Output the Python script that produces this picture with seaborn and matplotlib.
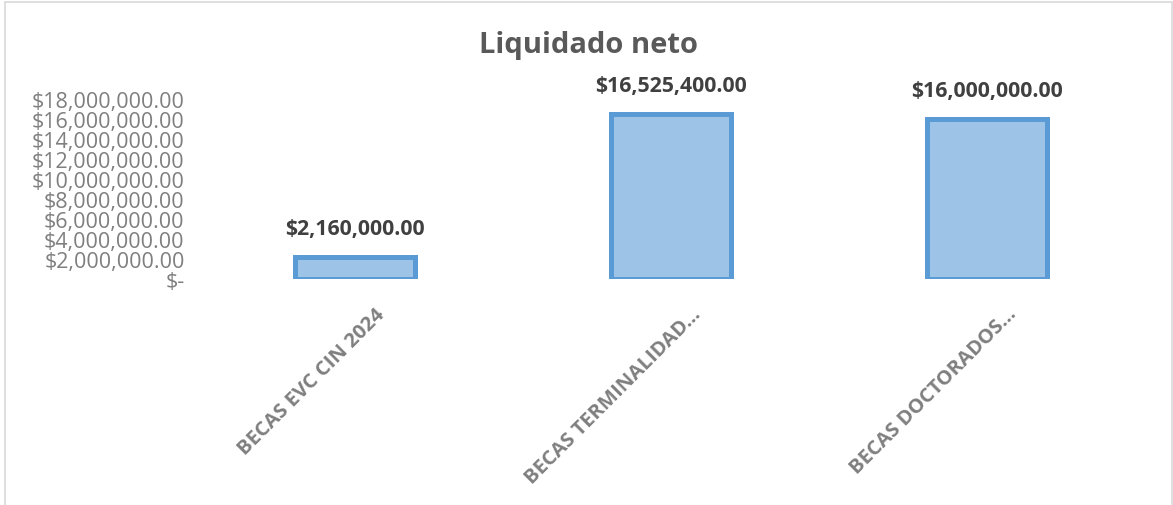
import matplotlib
matplotlib.use('Agg')
import matplotlib.pyplot as plt
import matplotlib.transforms as mtransforms
from matplotlib.patches import Rectangle
import seaborn as sns
import pandas as pd

# Datos del gráfico
categorias = ['BECAS EVC CIN 2024', 'BECAS TERMINALIDAD...', 'BECAS DOCTORADOS...']
liquidado = [2160000.00, 16525400.00, 16000000.00]
ticks_y = [0, 2e6, 4e6, 6e6, 8e6, 10e6, 12e6, 14e6, 16e6, 18e6]

df = pd.DataFrame({'Concepto': categorias, 'Liquidado': liquidado})

sns.set_style('white')
plt.rcParams['font.family'] = ['Open Sans', 'DejaVu Sans']

fig = plt.figure(figsize=(11.73, 5.06), dpi=100)
ax = fig.add_axes([0.168, 0.4466, 0.808, 0.3557])

sns.barplot(x='Concepto', y='Liquidado', data=df, ax=ax, color='#9DC3E6',
            saturation=1, edgecolor='#5B9BD5', linewidth=3.6, width=0.38)

ax.set_ylim(0, 18e6)
ax.set_xlim(-0.5, 2.5)
ax.set_yticks(ticks_y)
ax.set_yticklabels(['$-'] + ['${:,.2f}'.format(v) for v in ticks_y[1:]],
                   fontsize=15.5, color='#7f7f7f')
ax.set_xlabel('')
ax.set_ylabel('')
ax.tick_params(axis='y', length=0, pad=9)
ax.tick_params(axis='x', length=0)
for s in ax.spines.values():
    s.set_visible(False)

# Etiquetas del eje x rotadas
desplaza = mtransforms.ScaledTranslation(27 / 100, -27 / 100, fig.dpi_scale_trans)
for lbl in ax.get_xticklabels():
    lbl.set_rotation(45)
    lbl.set_ha('right')
    lbl.set_va('center')
    lbl.set_rotation_mode('anchor')
    lbl.set_fontsize(14.6)
    lbl.set_fontweight('bold')
    lbl.set_color('#7f7f7f')
    lbl.set_transform(lbl.get_transform() + desplaza)

# Etiquetas de datos
for i, v in enumerate(liquidado):
    ax.annotate('${:,.2f}'.format(v), (i, v), xytext=(0, 13), textcoords='offset points',
                ha='center', va='bottom', fontsize=15.3, fontweight='bold', color='#404040',
                annotation_clip=False)

fig.text(0.502, 0.911, 'Liquidado neto', ha='center', va='center',
         fontsize=21, fontweight='bold', color='#595959')

# Borde del área del gráfico
fig.patches.append(Rectangle((0.004, -0.01), 0.995, 1.004, transform=fig.transFigure,
                             fill=False, edgecolor='#d9d9d9', linewidth=1.2))

fig.savefig('out.png', dpi=100)
